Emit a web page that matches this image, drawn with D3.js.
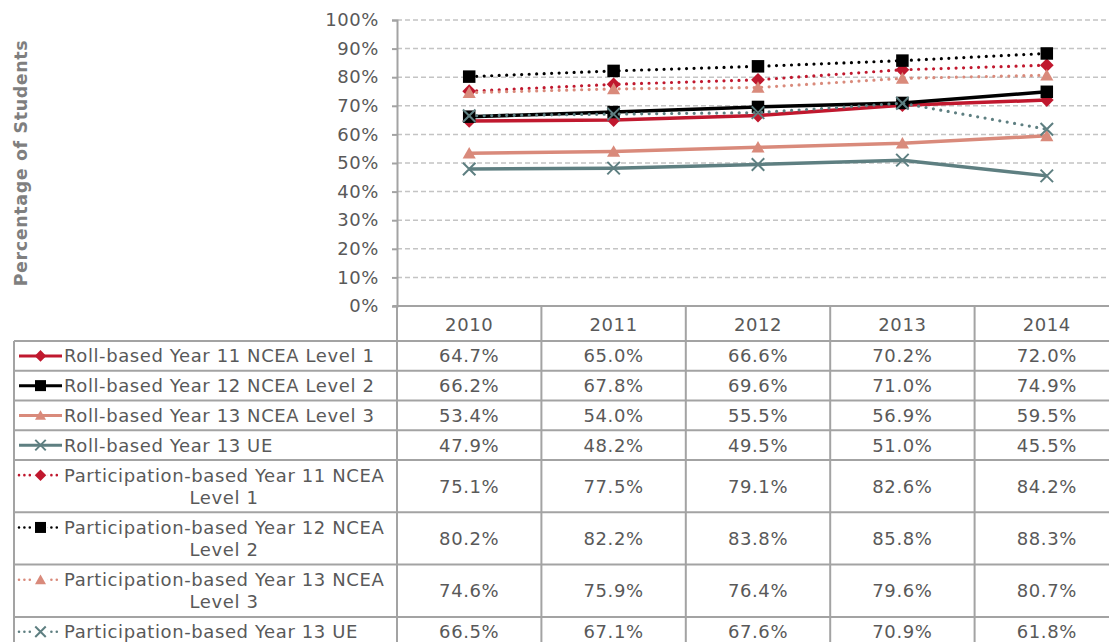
<!DOCTYPE html>
<html>
<head>
<meta charset="utf-8">
<script src="https://cdn.jsdelivr.net/npm/d3@7"></script>
<style>
  body { margin: 0; background: #fff; }
  svg { display: block; font-family: "DejaVu Sans", Verdana, sans-serif; }
</style>
</head>
<body>
<div id="chart"></div>
<script>
const years = ["2010", "2011", "2012", "2013", "2014"];
const yTicks = [0, 0.1, 0.2, 0.3, 0.4, 0.5, 0.6, 0.7, 0.8, 0.9, 1];

const seriesNames = [
  "Roll-based Year 11 NCEA Level 1",
  "Roll-based Year 12 NCEA Level 2",
  "Roll-based Year 13 NCEA Level 3",
  "Roll-based Year 13 UE",
  "Participation-based Year 11 NCEA Level 1",
  "Participation-based Year 12 NCEA Level 2",
  "Participation-based Year 13 NCEA Level 3",
  "Participation-based Year 13 UE"
];
// how the legend labels wrap in the table
const labelLines = [
  ["Roll-based Year 11 NCEA Level 1"],
  ["Roll-based Year 12 NCEA Level 2"],
  ["Roll-based Year 13 NCEA Level 3"],
  ["Roll-based Year 13 UE"],
  ["Participation-based Year 11 NCEA", "Level 1"],
  ["Participation-based Year 12 NCEA", "Level 2"],
  ["Participation-based Year 13 NCEA", "Level 3"],
  ["Participation-based Year 13 UE"]
];

const rollY11 = [0.647, 0.650, 0.666, 0.702, 0.720];
const rollY12 = [0.662, 0.678, 0.696, 0.710, 0.749];
const rollY13 = [0.534, 0.540, 0.555, 0.569, 0.595];
const rollUE = [0.479, 0.482, 0.495, 0.510, 0.455];
const partY11 = [0.751, 0.775, 0.791, 0.826, 0.842];
const partY12 = [0.802, 0.822, 0.838, 0.858, 0.883];
const partY13 = [0.746, 0.759, 0.764, 0.796, 0.807];
const partUE = [0.665, 0.671, 0.676, 0.709, 0.618];

const colors = ["#c0182e", "#000000", "#d98a7b", "#5e7f81", "#c0182e", "#000000", "#d98a7b", "#5e7f81"];
const markers = ["diamond", "square", "triangle", "cross", "diamond", "square", "triangle", "cross"];
const dotted = [false, false, false, false, true, true, true, true];

const series = [rollY11, rollY12, rollY13, rollUE, partY11, partY12, partY13, partUE].map((values, i) => ({
  name: seriesNames[i],
  lines: labelLines[i],
  values,
  color: colors[i],
  marker: markers[i],
  dotted: dotted[i]
}));

const width = 1109, height = 642;
const plotLeft = 397, plotRight = 1119, plotTop = 20, plotBottom = 306;
const tableLeft = 14;
const headerBottom = 341;
const singleRow = 29.75, doubleRow = 52.3;
const textColor = "#595959";
const borderColor = "#a3a3a3";
const fontSize = "18px", spacing = "0.6px";

const svg = d3.select("#chart").append("svg")
  .attr("width", width)
  .attr("height", height);

const x = d3.scaleBand().domain(years).range([plotLeft, plotRight]);
const y = d3.scaleLinear().domain([0, 1]).range([plotBottom, plotTop]);

function markerPath(type, s) {
  const h = s / 2;
  if (type === "square") return `M${-h},${-h}H${h}V${h}H${-h}Z`;
  if (type === "diamond") return `M0,${-h * 1.1}L${h * 1.1},0L0,${h * 1.1}L${-h * 1.1},0Z`;
  if (type === "triangle") return `M0,${-h}L${h * 1.05},${h * 0.85}L${-h * 1.05},${h * 0.85}Z`;
  return `M${-h},${-h}L${h},${h}M${h},${-h}L${-h},${h}`;
}

function drawMarker(g, type, color, s) {
  g.append("path")
    .attr("d", markerPath(type, s))
    .attr("fill", type === "cross" ? "none" : color)
    .attr("stroke", color)
    .attr("stroke-width", type === "cross" ? 2 : 0);
}

// gridlines
svg.append("g")
  .selectAll("line")
  .data(yTicks.filter(d => d > 0))
  .join("line")
  .attr("x1", plotLeft)
  .attr("x2", width)
  .attr("y1", d => y(d))
  .attr("y2", d => y(d))
  .attr("stroke", "#c4c4c4")
  .attr("stroke-width", 1.5)
  .attr("stroke-dasharray", "5,3");

// y axis
const yAxis = svg.append("g")
  .attr("transform", `translate(${plotLeft},0)`)
  .call(d3.axisLeft(y).tickValues(yTicks).tickFormat(d3.format(".0%")).tickSize(5).tickPadding(13));
yAxis.select(".domain").attr("stroke", borderColor).attr("stroke-width", 2);
yAxis.selectAll(".tick line").attr("stroke", borderColor).attr("stroke-width", 2);
yAxis.selectAll(".tick text")
  .attr("fill", textColor)
  .style("font-size", fontSize)
  .style("letter-spacing", spacing)
  .style("font-family", "DejaVu Sans, Verdana, sans-serif");

svg.append("text")
  .attr("transform", `translate(27,163) rotate(-90)`)
  .attr("text-anchor", "middle")
  .attr("fill", "#7f7f7f")
  .style("font-size", "17.5px")
  .style("letter-spacing", "0.6px")
  .style("font-weight", "bold")
  .text("Percentage of Students");

// lines and markers
const line = d3.line()
  .x((d, i) => x(years[i]) + x.bandwidth() / 2)
  .y(d => y(d));

const seriesG = svg.append("g")
  .selectAll("g")
  .data(series)
  .join("g");

seriesG.append("path")
  .attr("d", d => line(d.values))
  .attr("fill", "none")
  .attr("stroke", d => d.color)
  .attr("stroke-width", d => d.dotted ? 3.2 : 3.5)
  .attr("stroke-linecap", d => d.dotted ? "round" : "butt")
  .attr("stroke-dasharray", d => d.dotted ? "0,7.5" : null);

seriesG.each(function (s) {
  d3.select(this).selectAll("g.pt")
    .data(s.values)
    .join("g")
    .attr("class", "pt")
    .attr("transform", (d, i) => `translate(${x(years[i]) + x.bandwidth() / 2},${y(d)})`)
    .each(function () { drawMarker(d3.select(this), s.marker, s.color, 12.5); });
});

// data table
const rowTops = [];
let rowY = headerBottom;
series.forEach(s => {
  rowTops.push(rowY);
  rowY += s.lines.length > 1 ? doubleRow : singleRow;
});
const tableBottom = rowY;

const table = svg.append("g")
  .style("font-size", fontSize)
  .style("letter-spacing", spacing);

// header
table.selectAll("text.year")
  .data(years)
  .join("text")
  .attr("class", "year")
  .attr("x", d => x(d) + x.bandwidth() / 2)
  .attr("y", (plotBottom + headerBottom) / 2 + 1)
  .attr("dy", "0.36em")
  .attr("text-anchor", "middle")
  .attr("fill", textColor)
  .text(d => d);

const rows = table.selectAll("g.row")
  .data(series)
  .join("g")
  .attr("class", "row")
  .attr("transform", (d, i) => `translate(0,${rowTops[i]})`);

rows.each(function (s) {
  const g = d3.select(this);
  const h = s.lines.length > 1 ? doubleRow : singleRow;
  const mid = h / 2;
  const lineH = 22;
  const firstY = mid - (s.lines.length - 1) * lineH / 2;

  // legend key, level with the first text line
  g.append("line")
    .attr("x1", 19).attr("x2", 62)
    .attr("y1", firstY).attr("y2", firstY)
    .attr("stroke", s.color)
    .attr("stroke-width", s.dotted ? 2.6 : 3)
    .attr("stroke-linecap", s.dotted ? "round" : "butt")
    .attr("stroke-dasharray", s.dotted ? "0,5.4" : null);
  const key = g.append("g").attr("transform", `translate(40.5,${firstY})`);
  if (s.dotted) {
    key.append("rect").attr("x", -7).attr("y", -7).attr("width", 14).attr("height", 14).attr("fill", "#fff");
  }
  drawMarker(key, s.marker, s.color, s.marker === "square" ? 11 : 10.5);

  // label
  g.selectAll("text.lbl")
    .data(s.lines)
    .join("text")
    .attr("class", "lbl")
    .attr("x", (d, i) => i === 0 ? 64 : 224)
    .attr("text-anchor", (d, i) => i === 0 ? "start" : "middle")
    .attr("y", (d, i) => firstY + i * lineH)
    .attr("dy", "0.36em")
    .attr("fill", textColor)
    .text(d => d);

  // values
  g.selectAll("text.val")
    .data(s.values)
    .join("text")
    .attr("class", "val")
    .attr("x", (d, i) => x(years[i]) + x.bandwidth() / 2)
    .attr("y", mid)
    .attr("dy", "0.36em")
    .attr("text-anchor", "middle")
    .attr("fill", textColor)
    .text(d => d3.format(".1%")(d));
});

// table borders
const hLines = [headerBottom].concat(rowTops.slice(1), [tableBottom]);
table.append("line")
  .attr("x1", plotLeft - 4).attr("x2", width)
  .attr("y1", plotBottom).attr("y2", plotBottom)
  .attr("stroke", borderColor).attr("stroke-width", 2);
table.selectAll("line.h")
  .data(hLines)
  .join("line")
  .attr("class", "h")
  .attr("x1", tableLeft).attr("x2", width)
  .attr("y1", d => d).attr("y2", d => d)
  .attr("stroke", borderColor).attr("stroke-width", 2);
table.selectAll("line.v")
  .data(years.map(d => x(d)).concat([plotRight]))
  .join("line")
  .attr("class", "v")
  .attr("x1", d => d).attr("x2", d => d)
  .attr("y1", plotBottom).attr("y2", tableBottom)
  .attr("stroke", borderColor).attr("stroke-width", 2);
table.append("line")
  .attr("x1", tableLeft).attr("x2", tableLeft)
  .attr("y1", headerBottom).attr("y2", tableBottom)
  .attr("stroke", borderColor).attr("stroke-width", 2);
</script>
</body>
</html>
